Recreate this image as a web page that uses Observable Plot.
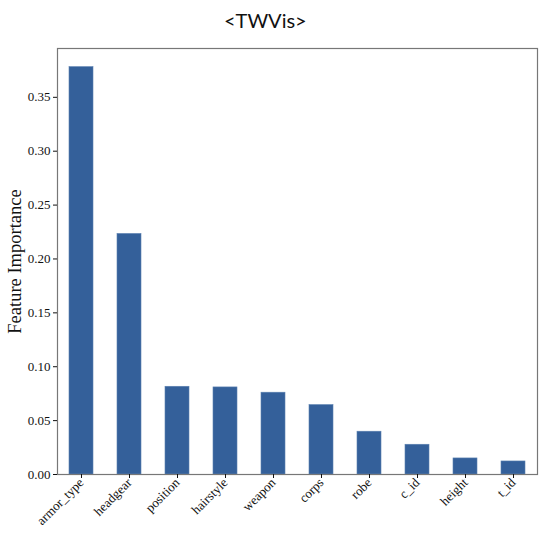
<!DOCTYPE html>
<html>
<head>
<meta charset="utf-8">
<script src="https://cdn.jsdelivr.net/npm/d3@7"></script>
<script src="https://cdn.jsdelivr.net/npm/@observablehq/plot@0.6"></script>
<style>
  html, body { margin: 0; padding: 0; background: #fff; }
  #title { position: relative; height: 30px; width: 544px; font-family: Lato, "Open Sans", sans-serif; font-size: 20px; color: #111; }
  #title span { position: absolute; left: 224px; top: 8px; line-height: 24px; }
  #chart svg { display: block; }
  #chart svg [aria-label="y-axis label"] text { font-size: 18.5px; }
</style>
</head>
<body>
<div id="title"><span>&lt;TWVis&gt;</span></div>
<div id="chart"></div>
<script>
const features = ["armor_type", "headgear", "position", "hairstyle", "weapon", "corps", "robe", "c_id", "height", "t_id"];
const importances = [0.378, 0.2232, 0.0814, 0.0808, 0.0759, 0.0644, 0.0397, 0.0276, 0.0149, 0.0121];
const yTicks = [0, 0.05, 0.10, 0.15, 0.20, 0.25, 0.30, 0.35];

const data = features.map((f, i) => ({feature: f, value: importances[i]}));

const chart = Plot.plot({
  width: 544,
  height: 503,
  marginTop: 18,
  marginBottom: 59,
  marginLeft: 57,
  marginRight: 7,
  style: {fontFamily: "'Liberation Serif', 'Times New Roman', serif", fontSize: "13px", color: "#111", background: "#fff"},
  x: {domain: features, paddingInner: 0.5, paddingOuter: 0.25, align: 0.5, label: null},
  y: {domain: [0, 0.3953], label: null},
  marks: [
    Plot.barY(data, {x: "feature", y: "value", fill: "#34609a", stroke: "#5a80b0", strokeWidth: 0.6}),
    Plot.frame({stroke: "#777", strokeWidth: 1.2}),
    Plot.axisY({ticks: yTicks, tickFormat: d3.format(".2f"), tickSize: 4, tickPadding: 3, label: "Feature Importance", labelAnchor: "center", labelArrow: "none", labelOffset: 50}),
    Plot.axisX({tickSize: 4, tickPadding: 2, tickRotate: -45, label: null})
  ]
});
document.getElementById("chart").appendChild(chart);
</script>
</body>
</html>
